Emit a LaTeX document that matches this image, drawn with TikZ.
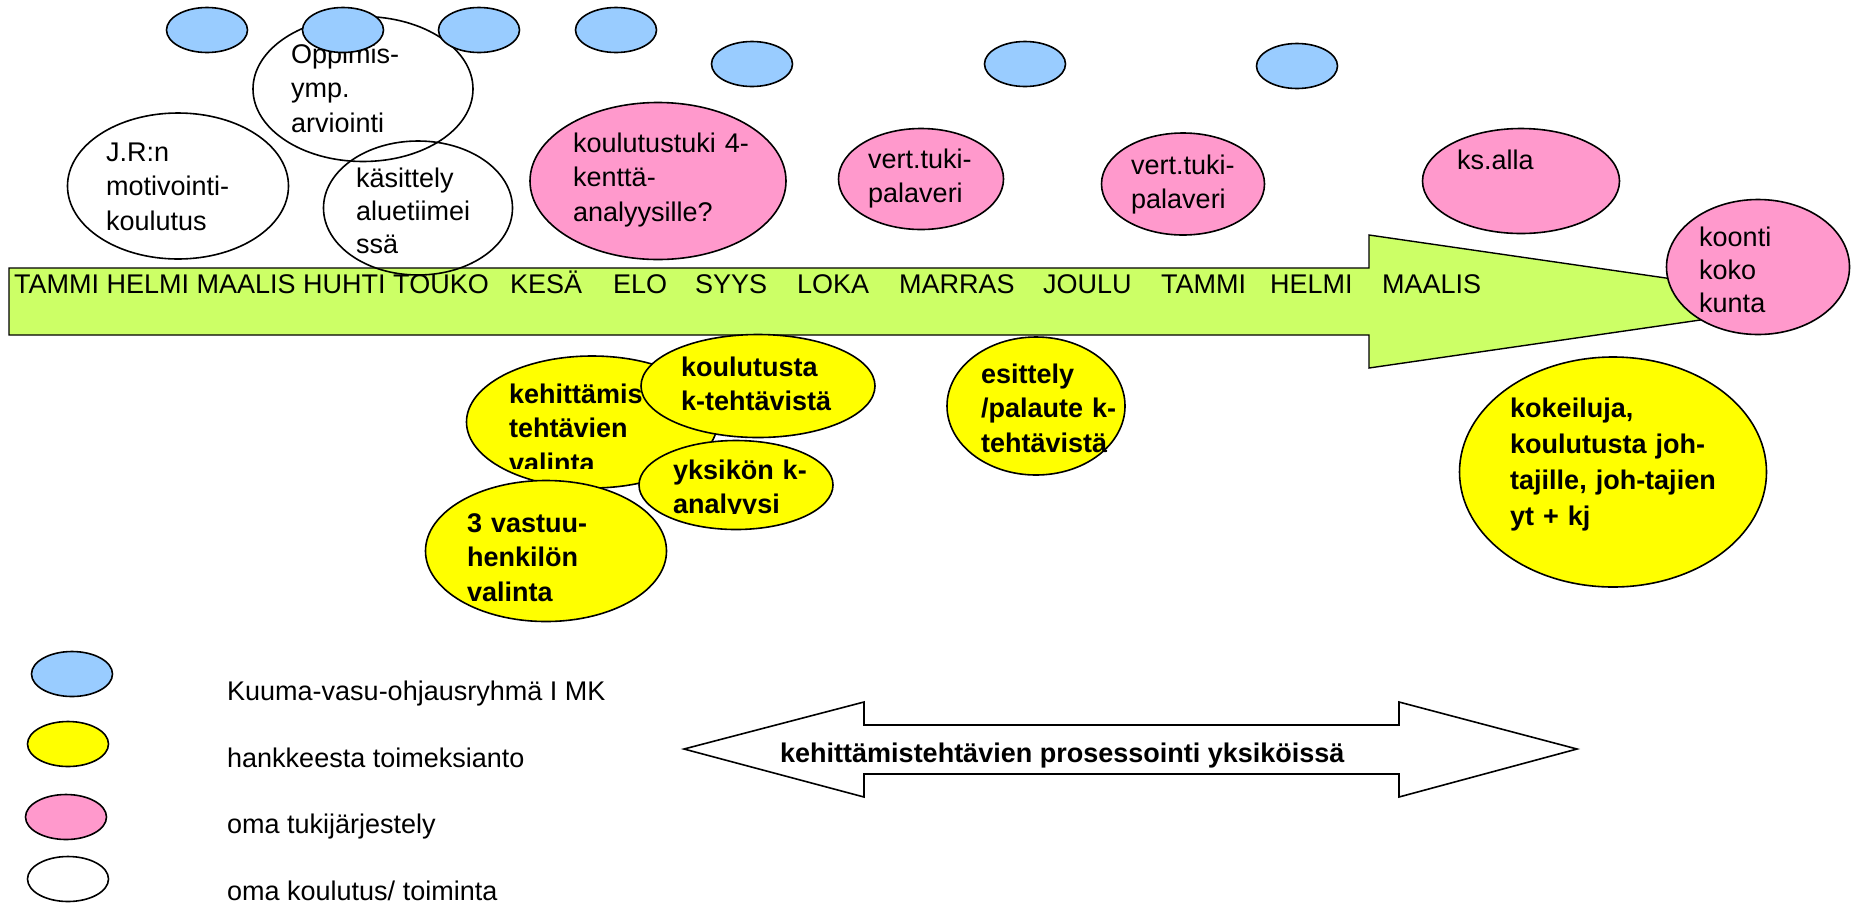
\documentclass[tikz,border=0pt]{standalone}
\usepackage{fontspec}
\setmainfont{Liberation Sans}
\usetikzlibrary{shapes.geometric}
\definecolor{ohjsin}{HTML}{99CCFF}
\definecolor{hankekel}{HTML}{FFFF00}
\definecolor{tukipun}{HTML}{FF99CC}
\definecolor{aikavih}{HTML}{CCFF66}
\begin{document}
\begin{tikzpicture}[
    x=1pt, y=-1pt,
    soikio/.style = {draw, ellipse, inner sep=0pt, line width=1.6pt},
    ohj/.style = {soikio, fill=ohjsin, minimum width=81, minimum height=45},
    oma/.style = {soikio},
    tuki/.style = {soikio, fill=tukipun},
    hanke/.style = {soikio, fill=hankekel},
    teksti/.style = {inner sep=0pt, anchor=base west, text width=400pt, align=left,
                     font=\fontsize{27}{34.5}\selectfont},
    lihava/.style = {teksti, font=\fontsize{27}{34.5}\selectfont\bfseries},
    kk/.style = {inner sep=0pt, anchor=base west, font=\fontsize{27}{34}\selectfont}
  ]
  \useasboundingbox (0,0) rectangle (1852,906);

  \draw[fill=aikavih, line width=1.4pt] (9,268) -- (1369,268) -- (1369,235) -- (1828,301.5)
    -- (1369,368) -- (1369,335) -- (9,335) -- cycle;
  \node[kk] (kk1) at (14,293) {TAMMI HELMI MAALIS HUHTI TOUKO};
  \node[kk] (kk6) at (510,293) {KESÄ};
  \node[kk] (kk7) at (613,293) {ELO};
  \node[kk] (kk8) at (695,293) {SYYS};
  \node[kk] (kk9) at (797,293) {LOKA};
  \node[kk] (kk10) at (899,293) {MARRAS};
  \node[kk] (kk11) at (1043,293) {JOULU};
  \node[kk] (kk12) at (1161,293) {TAMMI};
  \node[kk] (kk13) at (1270,293) {HELMI};
  \node[kk] (kk14) at (1382,293) {MAALIS};

  \node[oma, minimum width=221, minimum height=146] (jr) at (178,186) {};
  \node[teksti] (jr-t) at (106,161) {J.R:n\\motivointi-\\koulutus};
  \node[oma, minimum width=220, minimum height=145] (opp) at (363,89) {};
  \node[teksti] (opp-t) at (291,63) {Oppimis-\\ymp.\\arviointi};
  \node[oma, minimum width=189, minimum height=134] (kas) at (418,208) {};
  \node[teksti, font=\fontsize{27}{33}\selectfont] (kas-t) at (356,187) {käsittely\\aluetiimei\\ssä};

  \node[ohj] (b1) at (207,30) {};
  \node[ohj] (b2) at (343,30) {};
  \node[ohj] (b3) at (479,30) {};
  \node[ohj] (b4) at (616,30) {};
  \node[ohj] (b5) at (752,64) {};
  \node[ohj] (b6) at (1025,64) {};
  \node[ohj] (b7) at (1297,66) {};

  \node[tuki, minimum width=256, minimum height=157] (kt) at (658,181) {};
  \node[teksti] (kt-t) at (573,152) {koulutustuki 4-\\kenttä-\\analyysille?};
  \node[tuki, minimum width=165, minimum height=101] (vt1) at (921,179) {};
  \node[teksti] (vt1-t) at (868,168) {vert.tuki-\\palaveri};
  \node[tuki, minimum width=163, minimum height=102] (vt2) at (1183,184) {};
  \node[teksti] (vt2-t) at (1131,174) {vert.tuki-\\palaveri};
  \node[tuki, minimum width=197, minimum height=105] (ks) at (1521,181) {};
  \node[teksti] (ks-t) at (1457,169) {ks.alla};
  \node[tuki, minimum width=183, minimum height=135] (koonti) at (1758,267) {};
  \node[teksti, font=\fontsize{27}{33}\selectfont] (koonti-t) at (1699,246) {koonti\\koko\\kunta};

  \node[hanke, minimum width=251, minimum height=132] (keh) at (592,422) {};
  \begin{scope}
    \clip (460,340) rectangle (700,468);
    \node[lihava] (keh-t) at (509,403) {kehittämis\\tehtävien\\valinta};
  \end{scope}
  \node[hanke, minimum width=234, minimum height=103] (kou) at (758,386) {};
  \node[lihava] (kou-t) at (681,376) {koulutusta\\k-tehtävistä};
  \node[hanke, minimum width=194, minimum height=89] (yks) at (736,485) {};
  \begin{scope}
    \clip (640,440) rectangle (840,513);
    \node[lihava] (yks-t) at (673,479) {yksikön k-\\analyysi};
  \end{scope}
  \node[hanke, minimum width=241, minimum height=141] (vas) at (546,551) {};
  \node[lihava] (vas-t) at (467,532) {3 vastuu-\\henkilön\\valinta};
  \node[hanke, minimum width=178, minimum height=138] (esi) at (1036,406) {};
  \node[lihava] (esi-t) at (981,383) {esittely\\/palaute k-\\tehtävistä};
  \node[hanke, minimum width=307, minimum height=230] (kok) at (1613,472) {};
  \node[lihava, font=\fontsize{27}{36}\selectfont\bfseries] (kok-t) at (1510,417)
    {kokeiluja,\\koulutusta joh-\\tajille, joh-tajien\\yt + kj};

  \node[ohj] (sel1) at (72,674) {};
  \node[hanke, minimum width=81, minimum height=45] (sel2) at (68,744) {};
  \node[tuki, minimum width=81, minimum height=45] (sel3) at (66,817) {};
  \node[oma, minimum width=81, minimum height=45] (sel4) at (68,879) {};
  \node[kk] (sel1-t) at (227,700) {Kuuma-vasu-ohjausryhmä I MK};
  \node[kk] (sel2-t) at (227,767) {hankkeesta toimeksianto};
  \node[kk] (sel3-t) at (227,833) {oma tukijärjestely};
  \node[kk] (sel4-t) at (227,900) {oma koulutus/ toiminta};

  \draw[fill=white, line width=1.6pt] (684,749) -- (864,702) -- (864,725) -- (1399,725)
    -- (1399,702) -- (1577,749) -- (1399,797) -- (1399,774) -- (864,774) -- (864,797) -- cycle;
  \node[kk, font=\fontsize{27}{34}\selectfont\bfseries] (pros) at (780,762) {kehittämistehtävien prosessointi yksiköissä};
\end{tikzpicture}
\end{document}
